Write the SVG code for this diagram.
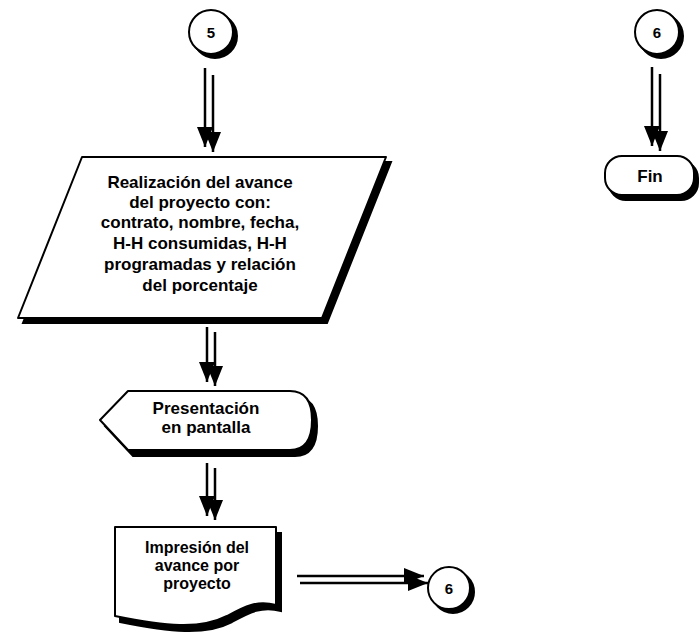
<svg xmlns="http://www.w3.org/2000/svg" width="700" height="641" viewBox="0 0 700 641">
  <style>
    .lbl { font-family: "Liberation Sans", Arial, sans-serif; font-weight: bold; font-size: 17px; fill: #000; text-anchor: middle; }
    .doc { font-size: 16px; }
    .num { font-family: "Liberation Sans", Arial, sans-serif; font-weight: bold; font-size: 15px; fill: #000; text-anchor: middle; }
    .shape { fill: #fff; stroke: #000; stroke-width: 2; stroke-linejoin: round; }
    .shadow { fill: #000; stroke: #000; stroke-width: 2; }
    .wire { stroke: #000; stroke-width: 2.5; fill: none; marker-end: url(#head); }
  </style>
  <defs>
    <marker id="head" viewBox="0 0 20 16" refX="20" refY="8" markerWidth="20" markerHeight="16" markerUnits="userSpaceOnUse" orient="auto">
      <path d="M0,0 L20,8 L0,16 Z" fill="#000"/>
    </marker>
  </defs>
  <rect width="700" height="641" fill="#fff"/>

  <!-- connector 5 -->
  <g id="conn5">
    <circle class="shadow" cx="215" cy="36" r="22"/>
    <circle class="shape" cx="211" cy="32" r="22" stroke-width="2.5"/>
    <text class="num" x="211" y="37.5">5</text>
  </g>

  <!-- connector 6 (top right) -->
  <g id="conn6top">
    <circle class="shadow" cx="661" cy="36" r="22"/>
    <circle class="shape" cx="657" cy="32" r="22" stroke-width="2.5"/>
    <text class="num" x="657" y="37.5">6</text>
  </g>

  <!-- end terminator -->
  <g id="fin">
    <rect class="shadow" x="609" y="161" width="89" height="39" rx="17"/>
    <rect class="shape" x="605" y="156" width="89" height="39" rx="17"/>
    <text class="lbl" x="650" y="182">Fin</text>
  </g>

  <!-- input/output: progress data -->
  <g id="avance">
    <polygon class="shadow" points="87,162 391,162 327,323 23,323"/>
    <polygon class="shape" points="82,157 386,157 322,318 18,318"/>
    <text class="lbl" x="200" y="188">Realización del avance</text>
    <text class="lbl" x="200" y="208">del proyecto con:</text>
    <text class="lbl" x="200" y="228">contrato, nombre, fecha,</text>
    <text class="lbl" x="200" y="249">H-H consumidas, H-H</text>
    <text class="lbl" x="200" y="270">programadas y relación</text>
    <text class="lbl" x="200" y="291">del porcentaje</text>
  </g>

  <!-- display -->
  <g id="pantalla">
    <path class="shadow" d="M105,426 L133,397 L295,397 Q317,397 317,426 Q317,456 295,456 L133,456 Z"/>
    <path class="shape" d="M100,420 L128,391 L290,391 Q312,391 312,420 Q312,450 290,450 L128,450 Z"/>
    <text class="lbl" x="206" y="414">Presentación</text>
    <text class="lbl" x="206" y="433">en pantalla</text>
  </g>

  <!-- printed document -->
  <g id="impresion">
    <path class="shadow" d="M120,533 L281,533 L281,611 C262,606 250,612 232,622 C205,636 170,632 120,622 Z"/>
    <path class="shape" d="M115,527 L276,527 L276,605 C257,600 245,606 227,616 C200,630 165,626 115,616 Z"/>
    <text class="lbl doc" x="197" y="553">Impresión del</text>
    <text class="lbl doc" x="197" y="571">avance por</text>
    <text class="lbl doc" x="197" y="589">proyecto</text>
  </g>

  <!-- connector 6 (off-page continuation) -->
  <g id="conn6">
    <circle class="shadow" cx="453" cy="592" r="21"/>
    <circle class="shape" cx="449" cy="588" r="21" stroke-width="2.5"/>
    <text class="num" x="449" y="593.5">6</text>
  </g>

  <!-- flow arrows, each with its offset shadow stroke -->
  <g id="connectors">
    <line class="wire" x1="205" y1="68" x2="205" y2="147"/>
    <line class="wire" x1="213" y1="75" x2="213" y2="152"/>
    <line class="wire" x1="207" y1="327" x2="207" y2="382"/>
    <line class="wire" x1="215" y1="332" x2="215" y2="386"/>
    <line class="wire" x1="207" y1="463" x2="207" y2="516"/>
    <line class="wire" x1="215" y1="468" x2="215" y2="520"/>
    <line class="wire" x1="297" y1="576" x2="424" y2="576"/>
    <line class="wire" x1="300" y1="583" x2="428" y2="583"/>
    <line class="wire" x1="652" y1="67" x2="652" y2="146"/>
    <line class="wire" x1="660" y1="74" x2="660" y2="151"/>
  </g>
</svg>
